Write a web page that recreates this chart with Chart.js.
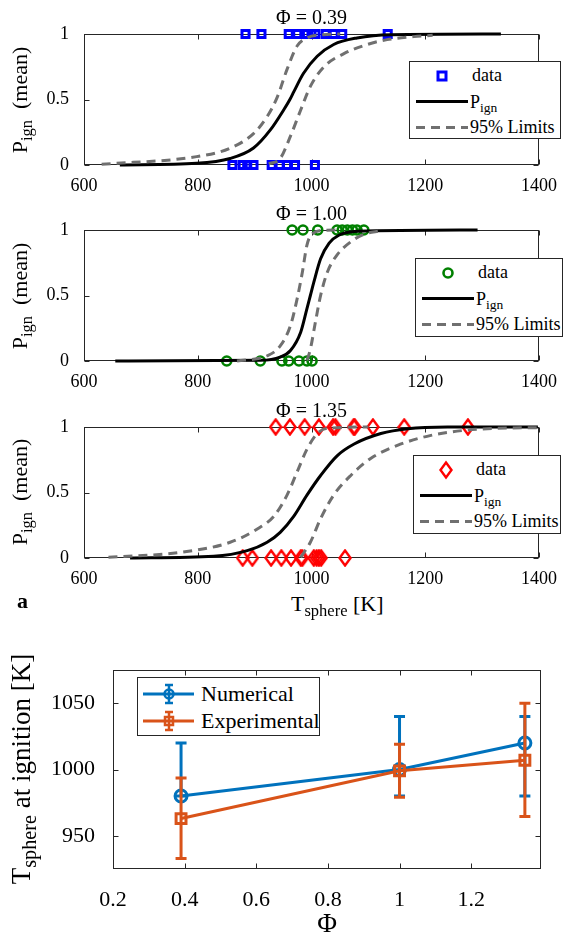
<!DOCTYPE html>
<html>
<head>
<meta charset="utf-8">
<script src="https://cdn.jsdelivr.net/npm/chart.js@4.4.1/dist/chart.umd.min.js"></script>
<style>
body{margin:0;background:#fff;}
#page{position:relative;width:565px;height:936px;overflow:hidden;background:#fff;
  font-family:"Liberation Serif","Times New Roman",serif;color:#000;}
canvas{position:absolute;left:0;}
.lbl{position:absolute;white-space:nowrap;font-size:22px;line-height:1;}
.sub{font-size:0.75em;position:relative;top:0.32em;}
.ylbl{transform:translate(-50%,-50%) rotate(-90deg);}
.leg{position:absolute;background:#fff;border:1px solid #262626;box-sizing:border-box;font-size:18px;}
.leg svg{position:absolute;left:0;top:0;}
.leg span.t{position:absolute;white-space:nowrap;line-height:1;}
</style>
</head>
<body>
<div id="page">
  <canvas id="c1" width="565" height="196" style="top:0px"></canvas>
  <canvas id="c2" width="565" height="196" style="top:196px"></canvas>
  <canvas id="c3" width="565" height="196" style="top:393px"></canvas>
  <canvas id="c4" width="565" height="296" style="top:640px"></canvas>

  <div class="lbl ylbl" style="left:20px;top:99.5px">P<span class="sub">ign</span>&nbsp; (mean)</div>
  <div class="lbl ylbl" style="left:20px;top:295.5px">P<span class="sub">ign</span>&nbsp; (mean)</div>
  <div class="lbl ylbl" style="left:20px;top:492px">P<span class="sub">ign</span>&nbsp; (mean)</div>
  <div class="lbl" style="left:291px;top:593px">T<span class="sub">sphere</span> [K]</div>
  <div class="lbl" style="left:17px;top:590px;font-weight:bold">a</div>

  <div class="lbl ylbl" style="left:21px;top:769px;font-size:27px">T<span class="sub">sphere</span> at ignition [K]</div>
  <div class="lbl" style="left:327px;top:910px;font-size:27px;transform:translateX(-50%)">&Phi;</div>

  <div id="leg1" class="leg" style="left:409px;top:61px;width:152px;height:78px"></div>
  <div id="leg2" class="leg" style="left:415px;top:258px;width:148px;height:79px"></div>
  <div id="leg3" class="leg" style="left:413px;top:455px;width:148px;height:79px"></div>
  <div id="leg4" class="leg" style="left:137px;top:677px;width:183px;height:59px;font-size:22px"></div>
</div>

<script>
// ---- data ----
var kTicks = [600, 800, 1000, 1200, 1400];
var pTicks = [0, 0.5, 1];

// phi = 0.39
var p039Ign = [884, 912, 960, 975, 992, 1000, 1007, 1025, 1039, 1054, 1134];
var p039NoIgn = [861, 879, 887, 898, 930, 944, 957, 971, 1006];
var p039FitT = [663, 798, 857, 898, 928, 951, 962, 969, 986, 1010, 1039, 1080, 1139, 1333];
var p039FitP = [0, 0.013, 0.05, 0.13, 0.27, 0.42, 0.5, 0.56, 0.70, 0.83, 0.92, 0.97, 0.995, 1];
var p039LoT = [631, 798, 857, 898, 922, 940, 957, 975, 992, 1020, 1050];
var p039LoP = [0.005, 0.064, 0.128, 0.24, 0.37, 0.52, 0.73, 0.91, 0.97, 0.995, 1];
var p039HiT = [925, 945, 963, 981, 998, 1022, 1057, 1098, 1133, 1180, 1213];
var p039HiP = [0.008, 0.05, 0.22, 0.42, 0.6, 0.75, 0.85, 0.92, 0.957, 0.98, 0.99];

// phi = 1.00
var p100Ign = [966, 985, 1011, 1045, 1054, 1063, 1072, 1080, 1092];
var p100NoIgn = [851, 910, 948, 960, 978, 992, 1001];
var p100FitT = [655, 910, 945, 963, 981, 992, 998, 1004, 1016, 1031, 1048, 1081, 1292];
var p100FitP = [0, 0.005, 0.03, 0.08, 0.22, 0.40, 0.5, 0.60, 0.78, 0.90, 0.96, 0.99, 1];
var p100LoT = [869, 922, 945, 963, 975, 984, 992, 1001, 1022, 1050];
var p100LoP = [0, 0.04, 0.115, 0.27, 0.48, 0.68, 0.885, 0.97, 0.997, 1];
var p100HiT = [992, 998, 1007, 1016, 1028, 1045, 1069, 1092, 1122];
var p100HiP = [0.005, 0.09, 0.3, 0.5, 0.68, 0.81, 0.91, 0.967, 0.995];

// phi = 1.35
var p135Ign = [937, 962, 988, 1013, 1038, 1042, 1074, 1076, 1108, 1163, 1275];
var p135NoIgn = [879, 896, 929, 947, 964, 981, 984, 1004, 1009, 1013, 1017, 1059];
var p135FitT = [681, 828, 887, 922, 945, 969, 992, 1016, 1045, 1075, 1122, 1169, 1239, 1398];
var p135FitP = [0, 0.013, 0.056, 0.12, 0.196, 0.32, 0.48, 0.63, 0.78, 0.87, 0.95, 0.987, 1, 1];
var p135LoT = [643, 769, 857, 904, 934, 957, 975, 992, 1010, 1028, 1100];
var p135LoP = [0.005, 0.043, 0.12, 0.22, 0.32, 0.48, 0.66, 0.83, 0.95, 0.99, 1];
var p135HiT = [981, 998, 1016, 1039, 1069, 1104, 1151, 1210, 1268, 1327, 1398];
var p135HiP = [0.005, 0.12, 0.30, 0.48, 0.63, 0.76, 0.86, 0.936, 0.974, 0.99, 0.995];

// ignition temperature vs phi
var phiVals = [0.39, 1.0, 1.35];
var phiTicks = [0.2, 0.4, 0.6, 0.8, 1, 1.2];
var tIgnTicks = [950, 1000, 1050];
var numT = [980, 1000, 1020];
var numLow = [980, 980, 980];
var numHigh = [1020, 1040, 1040];
var expT = [963, 999, 1007];
var expLow = [933, 979, 964.5];
var expHigh = [993.5, 1019, 1050];

var SERIF = '"Liberation Serif", "Times New Roman", serif';
var AXIS = '#262626';
var GRAY = '#707070';
var BLUE = '#0072BD', ORANGE = '#D95319';

function xy(xs, ys) {
  return xs.map(function(x, i) { return {x: x, y: ys[i]}; });
}
function outcome(xs, v) {
  return xs.map(function(x) { return {x: x, y: v}; });
}
function fixTicks(list) {
  return function(scale) {
    scale.ticks = list.map(function(v) { return {value: v}; });
  };
}
function plainLabel(v) { return String(Math.round(v * 1000) / 1000); }

// tall diamond marker like matlab 'd'
function diamondImg() {
  var c = document.createElement('canvas');
  c.width = 14; c.height = 18;
  var g = c.getContext('2d');
  g.strokeStyle = 'rgb(255,0,0)';
  g.lineWidth = 2.4;
  g.beginPath();
  g.moveTo(7, 1.5); g.lineTo(12.5, 9); g.lineTo(7, 16.5); g.lineTo(1.5, 9);
  g.closePath();
  g.stroke();
  return c;
}

// box round the axes with inward tick marks
var boxTicks = {
  id: 'boxTicks',
  beforeDatasetsDraw: function(chart) {
    var a = chart.chartArea, ctx = chart.ctx, len = 5;
    var l = Math.round(a.left) + 0.5, r = Math.round(a.right) - 0.5;
    var t = Math.round(a.top) + 0.5, b = Math.round(a.bottom) - 0.5;
    ctx.save();
    ctx.strokeStyle = AXIS;
    ctx.lineWidth = 1;
    ctx.strokeRect(l, t, r - l, b - t);
    ctx.beginPath();
    chart.scales.x.ticks.forEach(function(tk) {
      var px = Math.round(chart.scales.x.getPixelForValue(tk.value)) + 0.5;
      ctx.moveTo(px, b); ctx.lineTo(px, b - len);
      ctx.moveTo(px, t); ctx.lineTo(px, t + len);
    });
    chart.scales.y.ticks.forEach(function(tk) {
      var py = Math.round(chart.scales.y.getPixelForValue(tk.value)) + 0.5;
      ctx.moveTo(l, py); ctx.lineTo(l + len, py);
      ctx.moveTo(r, py); ctx.lineTo(r - len, py);
    });
    ctx.stroke();
    ctx.restore();
  }
};

// vertical error bars, drawn under each series
var errBars = {
  id: 'errBars',
  beforeDatasetDraw: function(chart, args) {
    var ds = chart.data.datasets[args.index];
    if (!ds.errLow) return;
    var ctx = chart.ctx, xs = chart.scales.x, ys = chart.scales.y, cap = 5.5;
    ctx.save();
    ctx.strokeStyle = ds.borderColor;
    ctx.lineWidth = 3;
    ctx.beginPath();
    ds.data.forEach(function(p, i) {
      var x = xs.getPixelForValue(p.x);
      var y1 = ys.getPixelForValue(ds.errLow[i]);
      var y2 = ys.getPixelForValue(ds.errHigh[i]);
      ctx.moveTo(x, y1); ctx.lineTo(x, y2);
      ctx.moveTo(x - cap, y1); ctx.lineTo(x + cap, y1);
      ctx.moveTo(x - cap, y2); ctx.lineTo(x + cap, y2);
    });
    ctx.stroke();
    ctx.restore();
  }
};

function panel(id, title, mk, ign, noIgn, fitT, fitP, loT, loP, hiT, hiP) {
  var curve = {showLine: true, pointRadius: 0, borderWidth: 3, cubicInterpolationMode: 'monotone', clip: false};
  new Chart(document.getElementById(id), {
    type: 'scatter',
    data: {
      datasets: [
        {label: 'data', data: outcome(ign, 1).concat(outcome(noIgn, 0)),
         pointStyle: mk.style, pointRadius: mk.r, borderWidth: mk.bw,
         borderColor: mk.color, backgroundColor: 'rgba(0,0,0,0)', clip: false, order: 3},
        Object.assign({label: 'Pign', data: xy(fitT, fitP), borderColor: '#000', order: 2}, curve),
        Object.assign({label: '95% Limits', data: xy(loT, loP), borderColor: GRAY, borderDash: [9, 6], order: 1}, curve),
        Object.assign({label: '95% Limits hi', data: xy(hiT, hiP), borderColor: GRAY, borderDash: [9, 6], order: 1}, curve)
      ]
    },
    options: {
      responsive: false,
      animation: false,
      events: [],
      layout: {padding: {left: 0, right: 26, top: 0, bottom: 0}},
      plugins: {
        legend: {display: false},
        tooltip: {enabled: false},
        title: {display: true, text: title, fullSize: false, color: '#000',
          font: {family: SERIF, size: 20, weight: 'normal'}, padding: {top: 7, bottom: 3}}
      },
      scales: {
        x: {type: 'linear', min: 600, max: 1400,
          afterBuildTicks: fixTicks(kTicks),
          afterFit: function(s) { s.height = 31; },
          grid: {display: false}, border: {display: false},
          ticks: {color: '#000', font: {family: SERIF, size: 18}, padding: 2, maxRotation: 0, callback: plainLabel}},
        y: {type: 'linear', min: 0, max: 1,
          afterBuildTicks: fixTicks(pTicks),
          afterFit: function(s) { s.width = 84; },
          grid: {display: false}, border: {display: false},
          ticks: {color: '#000', font: {family: SERIF, size: 18}, padding: 7, callback: plainLabel}}
      }
    },
    plugins: [boxTicks]
  });
}

panel('c1', '\u03A6 = 0.39', {style: 'rect', r: 5, bw: 3, color: 'rgb(0,0,255)'},
  p039Ign, p039NoIgn, p039FitT, p039FitP, p039LoT, p039LoP, p039HiT, p039HiP);
panel('c2', '\u03A6 = 1.00', {style: 'circle', r: 4.5, bw: 2.6, color: 'rgb(0,128,0)'},
  p100Ign, p100NoIgn, p100FitT, p100FitP, p100LoT, p100LoP, p100HiT, p100HiP);
panel('c3', '\u03A6 = 1.35', {style: diamondImg(), r: 6, bw: 2.4, color: 'rgb(255,0,0)'},
  p135Ign, p135NoIgn, p135FitT, p135FitP, p135LoT, p135LoP, p135HiT, p135HiP);

new Chart(document.getElementById('c4'), {
  type: 'scatter',
  data: {
    datasets: [
      {label: 'Numerical', data: xy(phiVals, numT), errLow: numLow, errHigh: numHigh,
       showLine: true, borderColor: BLUE, borderWidth: 3, pointStyle: 'circle', pointRadius: 6,
       pointBorderWidth: 3, pointBorderColor: BLUE, backgroundColor: 'rgba(0,0,0,0)', clip: false, order: 2},
      {label: 'Experimental', data: xy(phiVals, expT), errLow: expLow, errHigh: expHigh,
       showLine: true, borderColor: ORANGE, borderWidth: 3, pointStyle: 'rect', pointRadius: 7,
       pointBorderWidth: 3, pointBorderColor: ORANGE, backgroundColor: 'rgba(0,0,0,0)', clip: false, order: 1}
    ]
  },
  options: {
    responsive: false,
    animation: false,
    events: [],
    layout: {padding: {left: 0, right: 24, top: 30, bottom: 0}},
    plugins: {legend: {display: false}, tooltip: {enabled: false}},
    scales: {
      x: {type: 'linear', min: 0.2, max: 1.395,
        afterBuildTicks: fixTicks(phiTicks),
        afterFit: function(s) { s.height = 67; },
        grid: {display: false}, border: {display: false},
        ticks: {color: '#000', font: {family: SERIF, size: 22}, padding: 10, maxRotation: 0, callback: plainLabel}},
      y: {type: 'linear', min: 925, max: 1075,
        afterBuildTicks: fixTicks(tIgnTicks),
        afterFit: function(s) { s.width = 113; },
        grid: {display: false}, border: {display: false},
        ticks: {color: '#000', font: {family: SERIF, size: 22}, padding: 10, callback: plainLabel}}
    }
  },
  plugins: [boxTicks, errBars]
});

// ---- legends ----
function markerSvg(kind, cx, cy) {
  if (kind === 'square') return '<rect x="' + (cx - 4) + '" y="' + (cy - 4) + '" width="8" height="8" fill="none" stroke="rgb(0,0,255)" stroke-width="3"/>';
  if (kind === 'circle') return '<circle cx="' + cx + '" cy="' + cy + '" r="4.5" fill="none" stroke="rgb(0,128,0)" stroke-width="2.6"/>';
  return '<polygon points="' + cx + ',' + (cy - 7.5) + ' ' + (cx + 5.5) + ',' + cy + ' ' + cx + ',' + (cy + 7.5) + ' ' + (cx - 5.5) + ',' + cy +
    '" fill="none" stroke="rgb(255,0,0)" stroke-width="2.4"/>';
}
function panelLegend(id, kind, w) {
  var r1 = 14, r2 = 39.5, r3 = 65.5;
  var svg = '<svg width="' + w + '" height="78">' + markerSvg(kind, 32, r1) +
    '<line x1="6" x2="58" y1="' + r2 + '" y2="' + r2 + '" stroke="#000" stroke-width="3"/>' +
    '<line x1="6" x2="58" y1="' + r3 + '" y2="' + r3 + '" stroke="' + GRAY + '" stroke-width="3" stroke-dasharray="9 6"/>' +
    '</svg>';
  document.getElementById(id).innerHTML = svg +
    '<span class="t" style="left:62px;top:' + (r1 - 10) + 'px">data</span>' +
    '<span class="t" style="left:60px;top:' + (r2 - 9) + 'px">P<span class="sub">ign</span></span>' +
    '<span class="t" style="left:60px;top:' + (r3 - 10) + 'px">95% Limits</span>';
}
panelLegend('leg1', 'square', 152);
panelLegend('leg2', 'circle', 148);
panelLegend('leg3', 'diamond', 148);

(function() {
  var rows = [{y: 16, c: BLUE, name: 'Numerical', m: 'circle'}, {y: 43, c: ORANGE, name: 'Experimental', m: 'square'}];
  var svg = '<svg width="183" height="59">';
  var txt = '';
  rows.forEach(function(r) {
    svg += '<line x1="5" x2="56" y1="' + r.y + '" y2="' + r.y + '" stroke="' + r.c + '" stroke-width="3"/>';
    svg += '<path d="M31 ' + (r.y - 9) + 'V' + (r.y + 9) + 'M27 ' + (r.y - 9) + 'H35M27 ' + (r.y + 9) + 'H35" stroke="' + r.c + '" stroke-width="2.5" fill="none"/>';
    if (r.m === 'circle') svg += '<circle cx="31" cy="' + r.y + '" r="4.5" fill="none" stroke="' + r.c + '" stroke-width="2.5"/>';
    else svg += '<rect x="27" y="' + (r.y - 4) + '" width="8" height="8" fill="none" stroke="' + r.c + '" stroke-width="2.5"/>';
    txt += '<span class="t" style="left:63px;top:' + (r.y - 11) + 'px">' + r.name + '</span>';
  });
  document.getElementById('leg4').innerHTML = svg + '</svg>' + txt;
})();
</script>
</body>
</html>
